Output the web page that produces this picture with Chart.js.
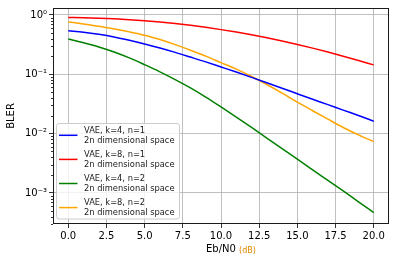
<!DOCTYPE html>
<html>
<head>
<meta charset="utf-8">
<script src="https://cdn.jsdelivr.net/npm/chart.js@4.4.0/dist/chart.umd.min.js"></script>
<style>
  body { margin: 0; background: #fff; }
  #wrap { width: 394px; height: 262px; }
</style>
</head>
<body>
<div id="wrap"><canvas id="blerChart" width="394" height="262"></canvas></div>
<script>
// Eb/N0 in dB
var ebn0 = [0, 1, 2, 3, 4, 5, 6, 7, 8, 9, 10, 11, 12, 13, 14, 15, 16, 17, 18, 19, 20];

// BLER
var blerK4N1 = [0.541, 0.511, 0.471, 0.425, 0.374, 0.324, 0.277, 0.234, 0.195, 0.162, 0.133, 0.109, 0.0887, 0.0719, 0.0582, 0.0470, 0.0380, 0.0308, 0.0249, 0.0202, 0.0162];
var blerK8N1 = [0.910, 0.899, 0.883, 0.861, 0.834, 0.800, 0.760, 0.716, 0.668, 0.618, 0.566, 0.514, 0.462, 0.412, 0.364, 0.318, 0.276, 0.237, 0.202, 0.171, 0.144];
var blerK4N2 = [0.393, 0.340, 0.289, 0.238, 0.189, 0.145, 0.110, 0.0815, 0.0590, 0.0413, 0.0282, 0.0190, 0.0127, 0.00841, 0.00558, 0.00371, 0.00246, 0.00163, 0.00108, 0.00071, 0.000467];
var blerK8N2 = [0.764, 0.705, 0.646, 0.582, 0.519, 0.455, 0.385, 0.316, 0.254, 0.202, 0.157, 0.122, 0.0918, 0.0673, 0.0482, 0.0339, 0.0243, 0.0175, 0.0127, 0.00955, 0.00733];

var seriesLabels = [
    ['VAE, k=4, n=1', '2n dimensional space'],
    ['VAE, k=8, n=1', '2n dimensional space'],
    ['VAE, k=4, n=2', '2n dimensional space'],
    ['VAE, k=8, n=2', '2n dimensional space']
];

var xTicks = [0, 2.5, 5, 7.5, 10, 12.5, 15, 17.5, 20];
var yTicks = [1e-3, 1e-2, 1e-1, 1];
var yTickText = ['10\u207B\u00B3', '10\u207B\u00B2', '10\u207B\u00B9', '10\u2070'];

function pts(ys) {
    return ebn0.map(function (x, i) { return { x: x, y: ys[i] }; });
}

function line(label, ys, color) {
    return {
        label: label,
        data: pts(ys),
        borderColor: color,
        backgroundColor: color,
        borderWidth: 1.5,
        pointRadius: 0,
        fill: false,
        cubicInterpolationMode: 'monotone'
    };
}

var FONT = 'DejaVu Sans';

// frame, minor ticks, legend and x title
var decor = {
    id: 'decor',
    afterDraw: function (chart) {
        var ctx = chart.ctx, a = chart.chartArea, ys = chart.scales.y;
        ctx.save();

        // minor y ticks
        ctx.strokeStyle = '#000';
        ctx.lineWidth = 0.8;
        for (var e = -4; e <= 0; e++) {
            for (var m = 2; m <= 9; m++) {
                var v = m * Math.pow(10, e);
                if (v < ys.min || v > ys.max) continue;
                var p = Math.round(ys.getPixelForValue(v)) + 0.5;
                ctx.beginPath();
                ctx.moveTo(a.left - 2, p);
                ctx.lineTo(a.left, p);
                ctx.stroke();
            }
        }

        // axes frame
        ctx.strokeStyle = '#1a1a1a';
        ctx.lineWidth = 1;
        ctx.strokeRect(Math.round(a.left) + 0.5, Math.round(a.top) + 0.5,
            Math.round(a.right - a.left) - 1, Math.round(a.bottom - a.top) - 1);

        // legend
        var bx = 56.5, by = 123.5, bw = 123, bh = 95.5;
        ctx.beginPath();
        ctx.roundRect(bx, by, bw, bh, 2.5);
        ctx.fillStyle = 'rgba(255,255,255,0.8)';
        ctx.fill();
        ctx.strokeStyle = '#cccccc';
        ctx.lineWidth = 1;
        ctx.stroke();

        ctx.font = '8.3px "' + FONT + '"';
        ctx.textBaseline = 'middle';
        ctx.textAlign = 'left';
        chart.data.datasets.forEach(function (ds, i) {
            var cy = 136 + i * 24.1;
            ctx.strokeStyle = ds.borderColor;
            ctx.lineWidth = 1.5;
            ctx.beginPath();
            ctx.moveTo(59, cy - 0.7);
            ctx.lineTo(77.5, cy - 0.7);
            ctx.stroke();
            ctx.fillStyle = '#1a1a1a';
            ctx.fillText(ds.label[0], 84, cy - 5);
            ctx.fillText(ds.label[1], 84, cy + 5);
        });

        // x title
        ctx.textBaseline = 'middle';
        ctx.fillStyle = '#000';
        ctx.font = '10px "' + FONT + '"';
        ctx.fillText('Eb/N0', 206, 249.5);
        var w = ctx.measureText('Eb/N0 ').width;
        ctx.font = '8px "' + FONT + '"';
        ctx.fillStyle = '#e08a00';
        ctx.fillText('(dB)', 206 + w, 250.5);

        ctx.restore();
    }
};

var config = {
    type: 'line',
    data: {
        datasets: [
            line(seriesLabels[0], blerK4N1, 'blue'),
            line(seriesLabels[1], blerK8N1, 'red'),
            line(seriesLabels[2], blerK4N2, 'green'),
            line(seriesLabels[3], blerK8N2, 'orange')
        ]
    },
    options: {
        responsive: false,
        animation: false,
        layout: { padding: { top: 6, right: 5, left: 0, bottom: 0 } },
        plugins: {
            legend: { display: false },
            tooltip: { enabled: false }
        },
        scales: {
            x: {
                type: 'linear',
                min: -1,
                max: 21,
                afterBuildTicks: function (s) {
                    s.ticks = xTicks.map(function (v) { return { value: v }; });
                },
                afterFit: function (s) { s.height = 38; },
                border: { display: false },
                grid: { color: '#b0b0b0', lineWidth: 0.8, tickColor: '#000', tickLength: 4 },
                ticks: {
                    color: '#000',
                    padding: 2,
                    maxRotation: 0,
                    font: { family: FONT, size: 10 },
                    callback: function (v) { return Number(v).toFixed(1); }
                }
            },
            y: {
                type: 'logarithmic',
                min: 3.1e-4,
                max: 1.31,
                afterBuildTicks: function (s) {
                    s.ticks = yTicks.map(function (v) { return { value: v }; });
                },
                afterFit: function (s) { s.width = 53; },
                border: { display: false },
                grid: { color: '#b0b0b0', lineWidth: 0.8, tickColor: '#000', tickLength: 4 },
                title: {
                    display: true,
                    text: 'BLER',
                    color: '#000',
                    padding: { top: 5, bottom: 0 },
                    font: { family: FONT, size: 10 }
                },
                ticks: {
                    color: '#000',
                    padding: 2,
                    font: { family: FONT, size: 10 },
                    callback: function (v) {
                        var k = yTicks.indexOf(v);
                        return k >= 0 ? yTickText[k] : '';
                    }
                }
            }
        }
    },
    plugins: [decor]
};

window.onload = function () {
    var ctx = document.getElementById('blerChart').getContext('2d');
    window.blerChart = new Chart(ctx, config);
};
</script>
</body>
</html>
